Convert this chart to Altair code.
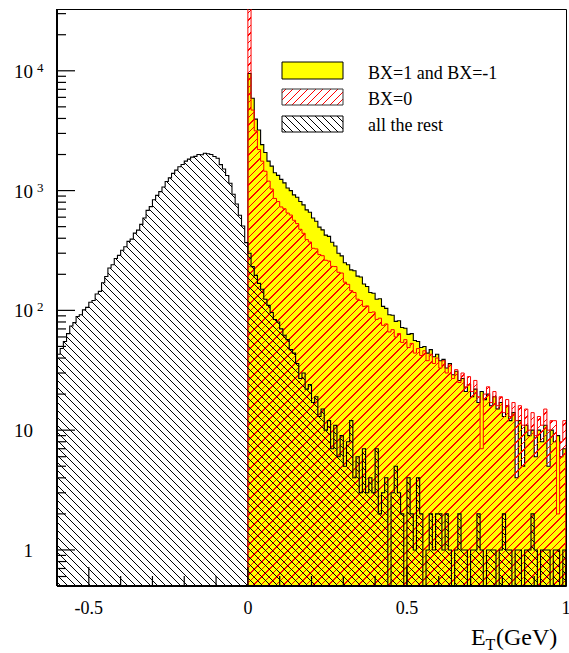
import math
import altair as alt
import pandas as pd

# ---------------------------------------------------------------- settings
X_MIN, X_MAX = -0.6, 1.0
Y_MIN, Y_MAX = 0.5, 32800.0
BIN_WIDTH = 0.01
PLOT_W, PLOT_H = 509, 577
FONT = "Liberation Serif, Times New Roman, Times, DejaVu Serif, serif"

# ---------------------------------------------------------------- data
# "all the rest": 160 bins of 0.01 from -0.6 to 1.0
rest_counts = [
    43, 48, 55, 64, 74, 79, 89, 92, 101, 106,
    117, 121, 137, 144, 170, 192, 226, 240, 271, 288,
    318, 340, 377, 393, 441, 468, 522, 590, 684, 735,
    838, 912, 981, 1072, 1190, 1277, 1392, 1481, 1583, 1650,
    1762, 1829, 1902, 1931, 2003, 1994, 2052, 2031, 2001, 1925,
    1860, 1648, 1512, 1338, 1151, 931, 772, 622, 506, 368,
    300, 232, 196, 168, 150, 124, 110, 96, 84, 80,
    70, 62, 57, 47, 44, 36, 27, 30, 22, 24,
    17, 19, 13, 15, 10, 12, 7, 11, 6, 9,
    5, 8, 12, 4, 6, 3, 7, 3, 4, 3,
    7, 2, 3, 4, 0, 3, 5, 3, 2, 0,
    4, 2, 1, 4, 2, 0, 1, 2, 1, 2,
    2, 1, 2, 1, 0, 1, 2, 1, 1, 0,
    1, 1, 2, 1, 0, 1, 1, 1, 0, 1,
    2, 1, 1, 0, 1, 1, 0, 1, 1, 2,
    1, 0, 1, 1, 1, 0, 1, 1, 0, 1,
]

# BX=1 and BX=-1: 100 bins of 0.01 from 0 to 1
bx_pm1_counts = [
    9500, 5900, 3950, 3200, 2420, 2080, 1760, 1600, 1410, 1340,
    1240, 1160, 1050, 1000, 920, 880, 810, 760, 690, 660,
    590, 555, 495, 470, 425, 415, 370, 345, 300, 285,
    250, 240, 218, 214, 193, 190, 166, 158, 141, 139,
    124, 125, 108, 104, 92, 91, 81, 82, 72, 71,
    63, 64, 56, 55, 49, 50, 44, 47, 41, 43,
    38, 39, 33, 36, 29, 31, 26, 27, 21, 24,
    19, 22, 17, 21, 18, 20, 16, 19, 15, 17,
    13, 16, 12, 14, 4, 12, 5, 11, 9, 10,
    6, 10, 8, 11, 5, 10, 8, 9, 6, 7,
]

# BX=0: 100 bins of 0.01 from 0 to 1
bx0_counts = [
    50000, 4700, 3150, 2200, 1760, 1450, 1200, 1030, 860, 810,
    730, 705, 650, 625, 565, 530, 475, 440, 390, 372,
    330, 326, 292, 286, 262, 258, 233, 232, 208, 205,
    172, 165, 146, 141, 124, 121, 108, 109, 96, 97,
    84, 86, 75, 77, 66, 69, 60, 64, 54, 57,
    49, 53, 44, 48, 42, 46, 38, 43, 36, 40,
    33, 38, 30, 35, 27, 32, 25, 30, 23, 28,
    21, 26, 19, 7, 20, 23, 17, 21, 16, 19,
    14, 18, 13, 17, 12, 16, 11, 15, 10, 14,
    9, 13, 11, 15, 10, 12, 12, 2, 8, 12,
]

y_major = [1, 10, 100, 1000, 10000]
y_label_base = ["1", "10", "10", "10", "10"]
y_label_exp = ["", "", "2", "3", "4"]
y_minor = [0.6, 0.7, 0.8, 0.9,
           2, 3, 4, 5, 6, 7, 8, 9,
           20, 30, 40, 50, 60, 70, 80, 90,
           200, 300, 400, 500, 600, 700, 800, 900,
           2000, 3000, 4000, 5000, 6000, 7000, 8000, 9000,
           20000, 30000]
x_major = [-0.5, 0.0, 0.5, 1.0]
x_labels = ["-0.5", "0", "0.5", "1"]
x_minor = [-0.4, -0.3, -0.2, -0.1, 0.1, 0.2, 0.3, 0.4, 0.6, 0.7, 0.8, 0.9]
legend_labels = ["BX=1 and BX=-1", "BX=0", "all the rest"]

# ---------------------------------------------------------------- helpers
xs = alt.Scale(domain=[X_MIN, X_MAX], nice=False, zero=False)
ys = alt.Scale(type="log", domain=[Y_MIN, Y_MAX], nice=False)


def ypix(v):
    lo, hi = math.log10(Y_MIN), math.log10(Y_MAX)
    return PLOT_H * (hi - math.log10(v)) / (hi - lo)


def xpix(x):
    return PLOT_W * (x - X_MIN) / (X_MAX - X_MIN)


def step_table(counts, x_start):
    """Histogram contour as explicit bin edges; empty bins sit on the floor."""
    rows = [(x_start, Y_MIN)]
    for i, c in enumerate(counts):
        lo = round(x_start + i * BIN_WIDTH, 6)
        hi = round(lo + BIN_WIDTH, 6)
        v = max(float(c), Y_MIN)
        rows.append((lo, v))
        rows.append((hi - 1e-6, v))
    rows.append((round(x_start + len(counts) * BIN_WIDTH, 6), Y_MIN))
    df = pd.DataFrame(rows, columns=["x", "y"])
    df["k"] = range(len(df))
    df["base"] = Y_MIN
    return df


def hatch(bw, bh, color, clear, slant, period=7.5, lw=1.0):
    """Diagonal hatching as a hard-stop linear gradient in bounding-box units."""
    span = bw + bh
    k = span / (bw * bw + bh * bh)
    if slant == "\\":
        x1, y1, x2, y2 = 0.0, 1.0, k * bw, 1.0 - k * bh
    else:
        x1, y1, x2, y2 = 0.0, 0.0, k * bw, k * bh
    half = lw * math.sqrt(2) / 2
    stops = [alt.GradientStop(offset=0, color=clear)]
    c = period / 2
    while c + half < span:
        a = round((c - half) / span, 6)
        b = round((c + half) / span, 6)
        stops += [alt.GradientStop(offset=a, color=clear),
                  alt.GradientStop(offset=a, color=color),
                  alt.GradientStop(offset=b, color=color),
                  alt.GradientStop(offset=b, color=clear)]
        c += period
    stops.append(alt.GradientStop(offset=1, color=clear))
    return alt.LinearGradient(gradient="linear", stops=stops,
                              x1=round(x1, 6), y1=round(y1, 6),
                              x2=round(x2, 6), y2=round(y2, 6))


def area_bbox(counts, x_start):
    x_end = x_start + len(counts) * BIN_WIDTH
    top = ypix(max(max(counts), Y_MIN))
    return xpix(x_end) - xpix(x_start), PLOT_H - top


def hist_layers(counts, x_start, fill, line_color, line_width):
    df = step_table(counts, x_start)
    area = alt.Chart(df.iloc[1:-1]).mark_area(
        fill=fill, opacity=1, clip=True, interpolate="linear"
    ).encode(
        x=alt.X("x:Q", scale=xs, axis=None),
        y=alt.Y("y:Q", scale=ys, axis=None),
        y2="base:Q",
    )
    outline = alt.Chart(df).mark_line(
        color=line_color, strokeWidth=line_width, clip=True, interpolate="linear"
    ).encode(
        x=alt.X("x:Q", scale=xs, axis=None),
        y=alt.Y("y:Q", scale=ys, axis=None),
        order="k:Q",
    )
    return area, outline


# ---------------------------------------------------------------- histograms
yel_area, yel_line = hist_layers(bx_pm1_counts, 0.0, "#ffff00", "black", 1.1)

bw, bh = area_bbox(bx0_counts, 0.0)
red_area, red_line = hist_layers(
    bx0_counts, 0.0, hatch(bw, bh, "#ff0000", "rgba(255,0,0,0)", "/"), "#ff0000", 1.0)

bw, bh = area_bbox(rest_counts, X_MIN)
rest_area, rest_line = hist_layers(
    rest_counts, X_MIN, hatch(bw, bh, "#000000", "rgba(0,0,0,0)", "\\"), "black", 1.1)

# ---------------------------------------------------------------- axes
y_major_df = pd.DataFrame({"v": y_major, "base": y_label_base, "exp": y_label_exp})
y_minor_df = pd.DataFrame({"v": y_minor})
x_major_df = pd.DataFrame({"v": x_major, "label": x_labels})
x_minor_df = pd.DataFrame({"v": x_minor})

y_major_ticks = alt.Chart(y_major_df).mark_rule(color="black", strokeWidth=1.2).encode(
    y=alt.Y("v:Q", scale=ys, axis=None), x=alt.value(0), x2=alt.value(18))
y_minor_ticks = alt.Chart(y_minor_df).mark_rule(color="black", strokeWidth=1.2).encode(
    y=alt.Y("v:Q", scale=ys, axis=None), x=alt.value(0), x2=alt.value(9))
x_major_ticks = alt.Chart(x_major_df).mark_rule(color="black", strokeWidth=1.2).encode(
    x=alt.X("v:Q", scale=xs, axis=None), y=alt.value(PLOT_H), y2=alt.value(PLOT_H - 19))
x_minor_ticks = alt.Chart(x_minor_df).mark_rule(color="black", strokeWidth=1.2).encode(
    x=alt.X("v:Q", scale=xs, axis=None), y=alt.value(PLOT_H), y2=alt.value(PLOT_H - 10))

dummy = pd.DataFrame({"d": [0]})
frame_left = alt.Chart(dummy).mark_rule(color="black", strokeWidth=2).encode(
    x=alt.value(0), y=alt.value(0), y2=alt.value(PLOT_H))
frame_bottom = alt.Chart(dummy).mark_rule(color="black", strokeWidth=2).encode(
    x=alt.value(0), x2=alt.value(PLOT_W), y=alt.value(PLOT_H))

y_text = alt.Chart(y_major_df).mark_text(
    font=FONT, fontSize=19, align="right", baseline="alphabetic", dy=7, color="black"
).encode(y=alt.Y("v:Q", scale=ys, axis=None), x=alt.value(-24), text="base:N")
y_exp = alt.Chart(y_major_df).mark_text(
    font=FONT, fontSize=13, align="left", baseline="alphabetic", dy=1, color="black"
).encode(y=alt.Y("v:Q", scale=ys, axis=None), x=alt.value(-20), text="exp:N")

x_text = alt.Chart(x_major_df).mark_text(
    font=FONT, fontSize=18, align="center", baseline="alphabetic", color="black"
).encode(x=alt.X("v:Q", scale=xs, axis=None), y=alt.value(PLOT_H + 27.5), text="label:N")

title_e = alt.Chart(dummy).mark_text(
    font=FONT, fontSize=24, align="left", baseline="alphabetic", text="E", color="black"
).encode(x=alt.value(414), y=alt.value(636))
title_t = alt.Chart(dummy).mark_text(
    font=FONT, fontSize=16, align="left", baseline="alphabetic", text="T", color="black"
).encode(x=alt.value(428.5), y=alt.value(641))
title_gev = alt.Chart(dummy).mark_text(
    font=FONT, fontSize=24, align="left", baseline="alphabetic", text="(GeV)", color="black"
).encode(x=alt.value(439), y=alt.value(636))

# ---------------------------------------------------------------- legend
LEG_X0, LEG_X1 = 225, 286
LEG_ROWS = [(53, 70), (80, 96), (107, 123)]
LEG_TEXT_X = 311
LEG_BASELINES = [69.5, 95.5, 122]

leg_fills = [
    "#ffff00",
    hatch(LEG_X1 - LEG_X0, LEG_ROWS[1][1] - LEG_ROWS[1][0], "#ff0000", "rgba(255,0,0,0)", "/"),
    hatch(LEG_X1 - LEG_X0, LEG_ROWS[2][1] - LEG_ROWS[2][0], "#000000", "rgba(0,0,0,0)", "\\"),
]
leg_strokes = ["black", "#333333", "black"]

legend_layers = []
for (y0, y1), fill, stroke, label, base in zip(LEG_ROWS, leg_fills, leg_strokes,
                                               legend_labels, LEG_BASELINES):
    legend_layers.append(
        alt.Chart(dummy).mark_rect(fill=fill, stroke=stroke, strokeWidth=1, opacity=1).encode(
            x=alt.value(LEG_X0), x2=alt.value(LEG_X1), y=alt.value(y0), y2=alt.value(y1)))
    legend_layers.append(
        alt.Chart(dummy).mark_text(
            font=FONT, fontSize=18, align="left", baseline="alphabetic", text=label,
            color="black"
        ).encode(x=alt.value(LEG_TEXT_X), y=alt.value(base)))

chart = alt.layer(
    yel_area, yel_line,
    red_area, red_line,
    rest_area, rest_line,
    y_major_ticks, y_minor_ticks, x_major_ticks, x_minor_ticks,
    frame_left, frame_bottom,
    y_text, y_exp, x_text,
    title_e, title_t, title_gev,
    *legend_layers,
).properties(
    width=PLOT_W, height=PLOT_H,
    autosize=alt.AutoSizeParams(type="none"),
    padding={"left": 57, "top": 9, "right": 3, "bottom": 67},
    background="white",
).configure_view(
    stroke="black", strokeWidth=1,
)

chart.save("out.html", embed_options={"renderer": "svg", "actions": False})
